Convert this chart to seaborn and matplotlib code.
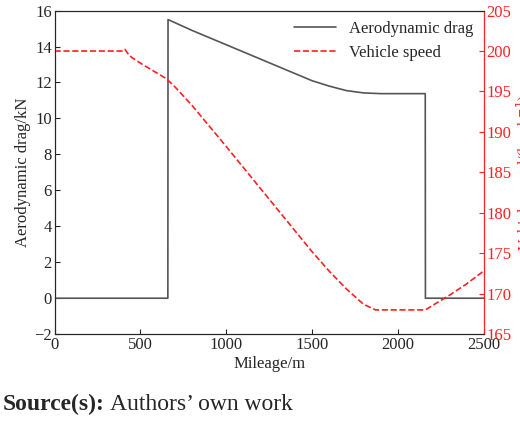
import matplotlib
matplotlib.use("Agg")
import matplotlib.pyplot as plt
import seaborn as sns
import pandas as pd

sns.set_style("ticks")
plt.rcParams['font.family'] = ['Liberation Serif', 'DejaVu Serif']

drag_x = [0, 660, 661, 800, 1000, 1200, 1400, 1500, 1600, 1700, 1800, 1900, 2000, 2160, 2161, 2500]
drag_y = [0, 0, 15.5, 14.9, 14.1, 13.3, 12.5, 12.1, 11.8, 11.55, 11.42, 11.38, 11.38, 11.38, 0, 0]
speed_x = [0, 400, 410, 430, 450, 500, 650, 700, 800, 1000, 1200, 1400, 1500, 1600, 1700, 1800, 1870, 1950, 2160, 2300, 2400, 2500]
speed_y = [200, 200, 200.2, 199.6, 199.2, 198.5, 196.6, 195.6, 193.3, 188.2, 183.0, 177.8, 175.2, 172.8, 170.6, 168.7, 168.0, 168.0, 168.0, 169.8, 171.2, 172.8]

fig = plt.figure(figsize=(5.2, 4.23), dpi=100)
ax = fig.add_axes([0.105, 0.21, 0.825, 0.765])
sns.lineplot(data=pd.DataFrame({"x": drag_x, "y": drag_y}), x="x", y="y", ax=ax,
             color="#555555", lw=1.2, label="Aerodynamic drag", legend=False, sort=False)
ax2 = ax.twinx()
sns.lineplot(data=pd.DataFrame({"x": speed_x, "y": speed_y}), x="x", y="y", ax=ax2,
             color="#ff2020", lw=1.2, ls="--", label="Vehicle speed", legend=False, sort=False)
ax.set_xlim(0, 2500); ax.set_ylim(-2, 16); ax.set_yticks(range(-2, 17, 2))
ax.set_yticklabels(["\u22122"] + [str(v) for v in range(0, 17, 2)])
ax2.set_ylim(165, 205); ax2.set_yticks(range(165, 206, 5))
ax.set_xticks(range(0, 2501, 500))
ax.set_xlabel("Mileage/m", fontsize=12, labelpad=2)
ax.set_ylabel("Aerodynamic drag/kN", fontsize=12, labelpad=2)
ax2.set_ylabel("Vehicle speed/(km\u00b7h$^{-1}$)", fontsize=11.5, color="#ff2020", labelpad=2)
ax.tick_params(labelsize=12, direction="in", pad=2)
ax2.tick_params(labelsize=12, direction="in", colors="#ff2020", pad=2)
ax2.spines["right"].set_color("#ff2020")
h1, l1 = ax.get_legend_handles_labels(); h2, l2 = ax2.get_legend_handles_labels()
ax2.legend(h1 + h2, l1 + l2, loc="upper right", frameon=False, fontsize=12,
           borderaxespad=0.2, handlelength=2.5)
t = fig.text(0.005, 0.03, "Source(s):", fontsize=17, fontweight="bold")
fig.canvas.draw()
bb = t.get_window_extent().transformed(fig.transFigure.inverted())
fig.text(bb.x1 + 0.01, 0.03, "Authors\u2019 own work", fontsize=17)
fig.savefig("out.png")
